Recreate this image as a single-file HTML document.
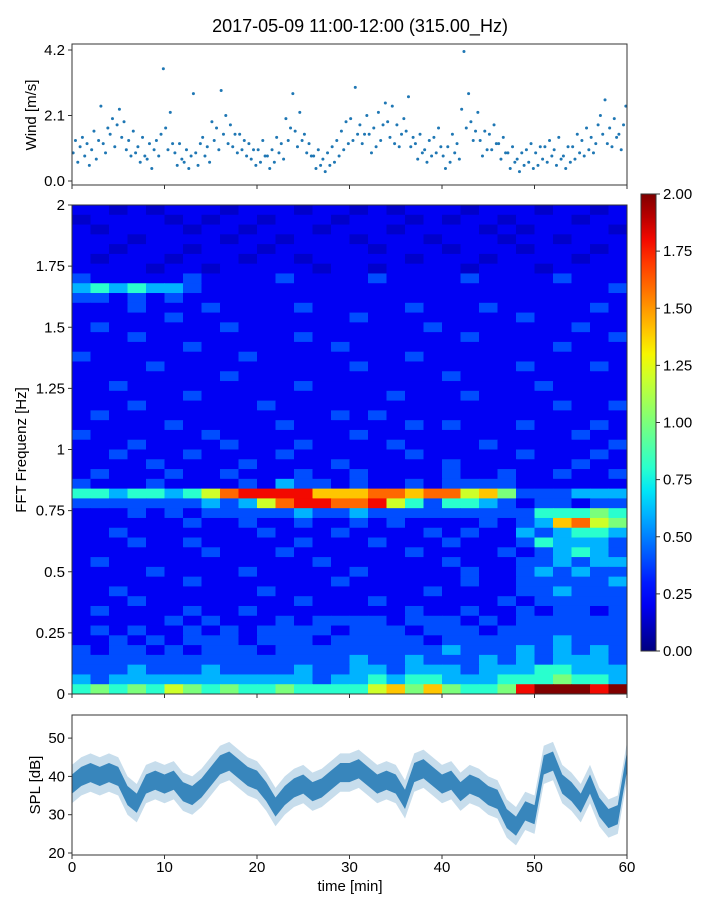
<!DOCTYPE html>
<html><head><meta charset="utf-8">
<style>
body{margin:0;background:#fff;}
svg text{font-family:"Liberation Sans","DejaVu Sans",sans-serif;fill:#000;}
</style></head>
<body>
<svg id="fig" width="720" height="900" viewBox="0 0 720 900" xmlns="http://www.w3.org/2000/svg">
<rect width="720" height="900" fill="#fff"/>
<text x="360" y="32" font-size="18" text-anchor="middle">2017-05-09 11:00-12:00 (315.00_Hz)</text>
<g id="wind"></g>
<g id="heat"></g>
<g id="cbar"></g>
<g id="spl"></g>
<text transform="translate(36,115) rotate(-90)" font-size="15" text-anchor="middle">Wind [m/s]</text>
<text transform="translate(26,450) rotate(-90)" font-size="15" text-anchor="middle">FFT Frequenz [Hz]</text>
<text transform="translate(40,785) rotate(-90)" font-size="15" text-anchor="middle">SPL [dB]</text>
<text x="350" y="891" font-size="15" text-anchor="middle">time [min]</text>
</svg>
<script>
const windValues=[0.9,1.3,0.6,1.1,1.4,0.8,1.2,0.5,1.0,1.6,0.7,1.3,2.4,1.2,0.9,1.7,1.5,2.0,1.1,1.8,2.3,1.4,1.9,1.0,1.3,0.8,1.6,0.9,1.1,0.6,1.4,0.8,0.7,1.2,0.4,1.0,1.3,0.8,1.5,3.6,
1.7,1.0,2.2,1.2,0.9,0.5,1.2,0.7,0.6,1.0,0.4,0.8,2.8,0.9,0.5,1.2,1.4,0.8,1.1,0.6,1.9,1.3,1.7,1.0,2.9,1.5,2.1,1.2,1.8,1.1,1.5,0.9,1.5,1.0,1.3,0.8,1.2,0.7,1.0,0.5,
1.0,0.6,1.3,0.8,0.8,0.4,1.0,0.6,1.4,0.9,1.2,0.7,2.0,1.3,1.7,2.8,1.6,1.1,2.2,1.3,1.5,0.9,1.2,0.8,0.8,0.4,1.0,0.5,0.7,0.3,0.9,0.5,1.1,0.6,1.3,0.8,1.6,1.0,1.9,1.2,
2.0,1.3,3.0,1.5,1.8,1.2,1.5,2.1,1.5,0.9,1.7,1.1,2.2,1.3,1.8,2.5,1.9,1.4,2.4,1.2,1.8,1.1,1.5,2.0,1.6,2.7,1.1,1.4,1.2,0.7,1.5,0.9,1.0,0.6,1.3,0.8,1.4,0.9,1.7,1.1,
0.8,0.4,1.1,0.6,1.5,0.9,1.2,0.7,2.3,4.15,1.7,2.8,1.9,1.3,1.6,2.2,1.3,0.8,1.6,1.0,1.5,1.0,1.8,1.2,1.2,0.7,1.4,0.9,0.9,0.4,1.1,0.6,0.7,0.3,0.9,0.5,1.0,0.6,1.2,0.4,
0.9,0.5,1.1,0.7,1.1,0.6,1.3,0.8,1.0,0.5,1.4,0.7,0.8,0.4,1.1,0.6,1.1,0.7,1.5,0.9,1.3,0.8,1.7,1.0,1.4,0.9,1.2,1.8,2.1,1.5,2.6,1.2,1.7,1.1,2.0,1.4,1.5,1.0,1.8,2.4];
const windTicks=[0.0,2.1,4.2];
const heatRows=[
"110101110111011010111011101101","011110101101110111010110111011","101111011011101110111101011110","111011110110111011101110110111",
"110111011101111101110111011101","101110111011011111011101111011","111101101111101101111011101111","211111211112111121111211112111",
"343433211111111111111111111112","221212111111111111111111111111","111211121111211111211121111121","111112111111111211111111211111",
"121111112111111111121111111211","111211111111211111111211111112","111111211111112111111111112111","211111111211111111211111111111",
"111121111111111211111111211121","111111112111111111112111111111","112111111111211111111111121111","111111211111111112111211111111",
"111211111121111111111111112112","121111111111112121111111111111","111112111112111111212111211121","211111121111111211111111111211",
"111211112111211112111121111112","112111211112111111211111211121","111121111211112111112111111211","121112112111211211112112112112",
"211121111213221211212222111111","443443468999977788788675222333","222222232368998896424432122122","111212122222322322222222244454",
"111111211211211212111121237865","112111111121112111121211323443","111211211111211121112111243332","111111121112111111211112123432",
"121111111111121111112111223233","111121111211111211111211232322","111111211111112111111211222223","112111111121111111121111223222",
"111211111111211121111112122222","121111211211111111211211212212","111112121112122221222121222222","121211212122221222122212222222",
"112121222122212222212222223222","212212122212222222223222323232","222222222222222322322232323332","222322232222322332333233344333",
"323333333333323343443334445443","4545465454454444675754459XXX9X"];
const freqTicks=[0,0.25,0.5,0.75,1,1.25,1.5,1.75,2];
const freqTickLabels=["0","0.25","0.5","0.75","1","1.25","1.5","1.75","2"];
const cbarTicks=[0,0.25,0.5,0.75,1,1.25,1.5,1.75,2];
const splValues=[38,40,41,40,41,40,35,33,38,39,38,39,36,35,37,40,43,44,42,40,39,36,32,35,37,38,36,37,39,41,41,42,40,38,39,38,34,41,42,40,38,39,36,38,37,35,34,29,27,31,30,43,44,38,36,33,38,32,29,30,44];
const splTicks=[20,30,40,50];
const timeTicks=[0,10,20,30,40,50,60];

const NS="http://www.w3.org/2000/svg";
function mk(tag,attrs,parent){const e=document.createElementNS(NS,tag);for(const k in attrs)e.setAttribute(k,attrs[k]);parent.appendChild(e);return e;}
const X0=72,X1=627;
const xT=t=>X0+t/60*(X1-X0);
function jet(v){v=Math.max(0,Math.min(1,v));
 const lerp=(pts)=>{for(let i=1;i<pts.length;i++){if(v<=pts[i][0]){const a=pts[i-1],b=pts[i];return a[1]+(b[1]-a[1])*(v-a[0])/(b[0]-a[0]);}}return pts[pts.length-1][1];};
 const r=lerp([[0,0],[0.35,0],[0.66,1],[0.89,1],[1,0.5]]);
 const g=lerp([[0,0],[0.125,0],[0.375,1],[0.64,1],[0.91,0],[1,0]]);
 const b=lerp([[0,0.5],[0.11,1],[0.34,1],[0.65,0],[1,0]]);
 return `rgb(${Math.round(r*255)},${Math.round(g*255)},${Math.round(b*255)})`;}

// Wind panel
const wind=document.getElementById('wind');
const wT=44,wB=185,yW=v=>181-v*(131/4.2);
windValues.forEach((v,i)=>{const c=mk('circle',{cx:xT((i+0.5)*0.25),cy:yW(v),r:1.5,fill:'#1f77b4'},wind);

});
mk('rect',{x:X0,y:wT,width:X1-X0,height:wB-wT,fill:'none',stroke:'#333','stroke-width':1},wind);
windTicks.forEach(t=>{mk('line',{x1:X0-4,x2:X0,y1:yW(t),y2:yW(t),stroke:'#333'},wind);
const tx=mk('text',{x:X0-7,y:yW(t)+5,'font-size':15,'text-anchor':'end'},wind);tx.textContent=t.toFixed(1);

});
timeTicks.forEach(t=>mk('line',{x1:xT(t),x2:xT(t),y1:wB,y2:wB+4,stroke:'#333'},wind));

// Heatmap
const heat=document.getElementById('heat');
const hT=205,hB=694,yF=f=>hB-f/2*(hB-hT);
const nR=heatRows.length;
heatRows.forEach((row,ri)=>{const fTop=2-ri*(2/nR),fBot=2-(ri+1)*(2/nR);
 const nC=row.length;
 for(let ci=0;ci<nC;ci++){const ch=row[ci];const lvl=(ch==='X'?10:parseInt(ch));const val=lvl===0?0.13:lvl*0.2;
  const r=mk('rect',{x:xT(ci*60/nC),y:yF(fTop),width:xT((ci+1)*60/nC)-xT(ci*60/nC)+0.5,height:yF(fBot)-yF(fTop)+0.5,fill:jet(val/2)},heat);
  
  }});
mk('rect',{x:X0,y:hT,width:X1-X0,height:hB-hT,fill:'none',stroke:'#333'},heat);
freqTicks.forEach((t,i)=>{mk('line',{x1:X0-4,x2:X0,y1:yF(t),y2:yF(t),stroke:'#333'},heat);
const tx=mk('text',{x:X0-7,y:yF(t)+5,'font-size':15,'text-anchor':'end'},heat);tx.textContent=freqTickLabels[i];

});
timeTicks.forEach(t=>mk('line',{x1:xT(t),x2:xT(t),y1:hB,y2:hB+4,stroke:'#333'},heat));

// Colorbar
const cb=document.getElementById('cbar');
const cT=194,cB=651,cX=641,cW=15;
const defs=mk('defs',{},cb);const lg=mk('linearGradient',{id:'jetg',x1:0,y1:1,x2:0,y2:0},defs);
for(let i=0;i<=20;i++)mk('stop',{offset:i/20,'stop-color':jet(i/20)},lg);
mk('rect',{x:cX,y:cT,width:cW,height:cB-cT,fill:'url(#jetg)',stroke:'#333'},cb);
cbarTicks.forEach(t=>{const y=cB-t/2*(cB-cT);mk('line',{x1:cX+cW,x2:cX+cW+4,y1:y,y2:y,stroke:'#333'},cb);
const tx=mk('text',{x:cX+cW+7,y:y+5,'font-size':15},cb);tx.textContent=t.toFixed(2);

});

// SPL
const spl=document.getElementById('spl');
const sT=715,sB=855,yS=v=>853-(v-20)*3.83;
let up=[],dn=[];
splValues.forEach((v,i)=>{up.push(xT(i)+','+yS(v+5));dn.unshift(xT(i)+','+yS(v-5));});
const band=mk('polygon',{points:up.concat(dn).join(' '),fill:'#1f77b4','fill-opacity':0.25},spl);


up=[];dn=[];
splValues.forEach((v,i)=>{up.push(xT(i)+','+yS(v+2.5));dn.unshift(xT(i)+','+yS(v-2.5));});
const core=mk('polygon',{points:up.concat(dn).join(' '),fill:'#1f77b4','fill-opacity':0.85},spl);


mk('rect',{x:X0,y:sT,width:X1-X0,height:sB-sT,fill:'none',stroke:'#333'},spl);
splTicks.forEach(t=>{mk('line',{x1:X0-4,x2:X0,y1:yS(t),y2:yS(t),stroke:'#333'},spl);
const tx=mk('text',{x:X0-7,y:yS(t)+5,'font-size':15,'text-anchor':'end'},spl);tx.textContent=t;

});
timeTicks.forEach(t=>{mk('line',{x1:xT(t),x2:xT(t),y1:sB,y2:sB+4,stroke:'#333'},spl);
const tx=mk('text',{x:xT(t),y:sB+17,'font-size':15,'text-anchor':'middle'},spl);tx.textContent=t;

});
</script>
</body></html>
